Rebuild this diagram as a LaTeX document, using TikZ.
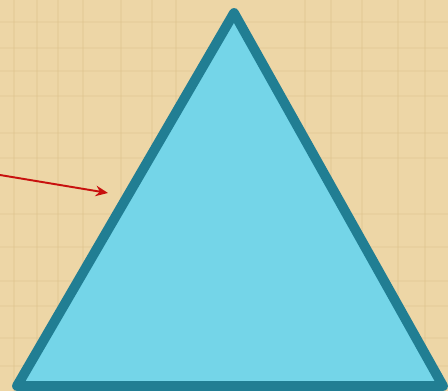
\documentclass[tikz,border=0pt]{standalone}
\usetikzlibrary{arrows.meta}
\definecolor{papyrus}{HTML}{EDD6A6}
\definecolor{papyrusdark}{HTML}{D8BC86}
\definecolor{triborder}{HTML}{217E93}
\definecolor{trifill}{HTML}{74D5E8}
\definecolor{pointer}{HTML}{C8100E}
\begin{document}
\begin{tikzpicture}[
        x=0.02cm, y=-0.02cm,
        trianglebody/.style={fill=trifill, draw=triborder, line width=5.6pt, line join=round},
        pointerarrow/.style={draw=pointer, line width=1.1pt, -{Stealth[length=7pt, width=6pt]}},
        >=stealth
    ]
        % Background, papyrus-like
        \fill[papyrus] (0,0) rectangle (448,391);
        \useasboundingbox (0,0) rectangle (448,391);
        \foreach \gx in {14,37,58,83,121,152,176,305,331,362,398,425}
            \draw[papyrusdark, opacity=0.25, line width=1.5pt] (\gx,0) -- (\gx,391);
        \foreach \gy in {22,48,71,96,133,158,214,247,281,306,338,366}
            \draw[papyrusdark, opacity=0.2, line width=1.5pt] (0,\gy) -- (448,\gy);

        % Triangle corners
        \coordinate (apex) at (234,13);
        \coordinate (baseleft) at (17,386);
        \coordinate (baseright) at (443,386);

        % Triangle
        \draw[trianglebody] (apex) -- (baseright) -- (baseleft) -- cycle;

        % Red pointer
        \coordinate (pointerstart) at (0,175);
        \coordinate (pointerend) at (108,193);
        \draw[pointerarrow] (pointerstart) -- (pointerend);
    \end{tikzpicture}
\end{document}
